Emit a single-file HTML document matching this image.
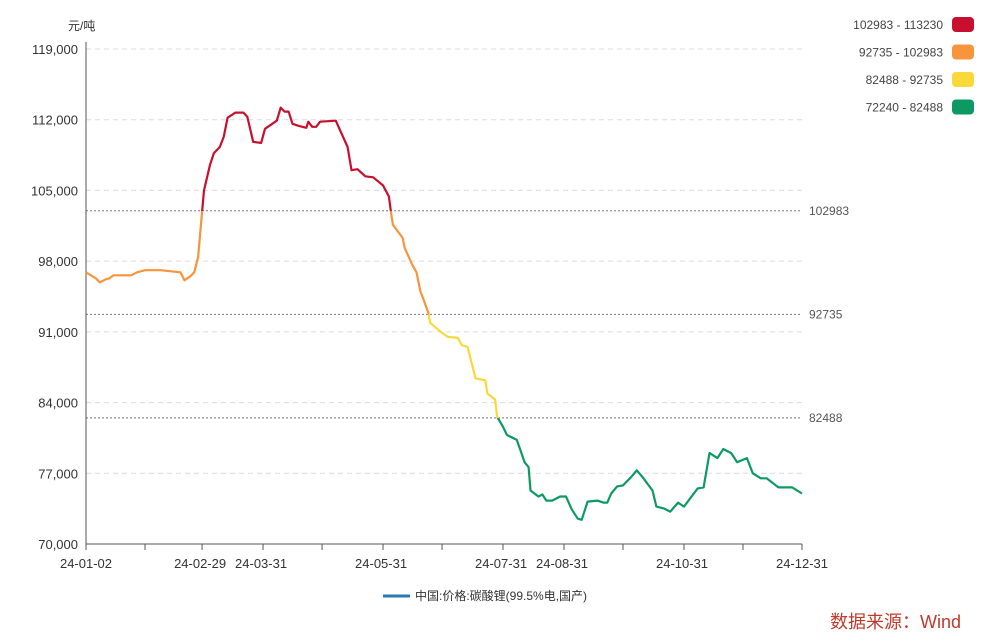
<!DOCTYPE html>
<html><head><meta charset="utf-8"><style>
html,body{margin:0;padding:0;background:#fff;}
body{width:991px;height:636px;overflow:hidden;font-family:"Liberation Sans","Noto Sans CJK SC",sans-serif;}
svg text{font-family:"Liberation Sans","Noto Sans CJK SC",sans-serif;}
</style></head><body>
<svg id="chart" width="991" height="636"></svg>
<script>
const days=[0,5,7,10,12,14,23,26,30,38,48,50,53,55,57,59,60,63,65,68,70,72,76,80,82,85,89,91,97,99,101,103,105,108,112,113,115,117,119,127,133,135,138,142,146,151,154,155,156,161,162,166,168,170,171,174,175,181,184,189,191,194,198,203,204,208,209,212,214,219,223,225,226,230,232,234,237,241,244,247,250,252,255,260,263,265,267,270,273,277,280,283,288,290,294,297,301,304,309,311,314,317,321,324,328,331,336,339,343,346,352,359,364];
const prices=[96900,96300,95900,96200,96300,96600,96600,96900,97100,97100,96900,96100,96500,96900,98400,102900,105000,107500,108700,109300,110300,112200,112700,112700,112300,109800,109700,111100,111900,113200,112800,112800,111600,111400,111200,111800,111300,111300,111800,111900,109300,107000,107100,106400,106300,105500,104400,102900,101600,100300,99300,97600,96900,95000,94500,92900,91900,90900,90500,90400,89700,89500,86400,86200,84900,84300,82600,81600,80800,80300,78100,77600,75300,74700,74900,74300,74300,74700,74700,73400,72500,72400,74200,74300,74100,74100,75000,75700,75800,76600,77300,76600,75300,73700,73500,73200,74100,73700,75000,75500,75600,79000,78500,79400,79000,78100,78500,77000,76500,76500,75600,75600,75000];
const yTicks=[70000,77000,84000,91000,98000,105000,112000,119000];
const xTickLabels=["24-01-02","24-02-29","24-03-31","24-05-31","24-07-31","24-08-31","24-10-31","24-12-31"];
const xTickDays=[0,58,89,150,211,242,303,364];
const monthTickDays=[0,30,59,90,120,151,181,212,243,273,304,334,364];
const thresholds=[102983,92735,82488];
const rangeLabels=["102983 - 113230","92735 - 102983","82488 - 92735","72240 - 82488"];
const rangeColors=["#c8102e","#f7943c","#f9d93a","#0d9a62"];

const NS="http://www.w3.org/2000/svg";
const svg=document.getElementById('chart');
const X0=86,X1=802,Y0=544,Y1=49;
const xs=d=>X0+(d-0)/(364-0)*(X1-X0);
const ys=v=>Y0-(v-70000)/(119000-70000)*(Y0-Y1);
function mk(tag,attrs,parent){const e=document.createElementNS(NS,tag);for(const k in attrs)e.setAttribute(k,attrs[k]);(parent||svg).appendChild(e);return e;}

const defs=mk('defs',{});
const grad=mk('linearGradient',{id:'lg',gradientUnits:'userSpaceOnUse',x1:0,y1:ys(113230),x2:0,y2:ys(72240)},defs);
const bounds=[113230,102983,92735,82488,72240];
const span=ys(72240)-ys(113230);
for(let i=0;i<4;i++){
  const a=(ys(bounds[i])-ys(113230))/span,b=(ys(bounds[i+1])-ys(113230))/span;
  mk('stop',{offset:a,'stop-color':rangeColors[i]},grad);
  mk('stop',{offset:b,'stop-color':rangeColors[i]},grad);
}

const unit=mk('text',{x:68,y:30,'font-size':12,fill:'#333'});unit.textContent='元/吨';



yTicks.forEach(v=>{
  if(v>70000){const g=mk('line',{x1:X0,x2:X1,y1:ys(v),y2:ys(v),stroke:'#dcdcdc','stroke-dasharray':'5,4'});
  
  }
  const t=mk('text',{x:78,y:ys(v)+5,'font-size':13,fill:'#333','text-anchor':'end'});
  t.textContent=v.toLocaleString('en-US');
  
  
});

thresholds.forEach(v=>{
  const l=mk('line',{x1:X0,x2:X1,y1:ys(v),y2:ys(v),stroke:'#777','stroke-dasharray':'2,2'});
  
  
  const t=mk('text',{x:809,y:ys(v)+4,'font-size':12,fill:'#555'});
  t.textContent=String(v);
  
  
});

const ya=mk('line',{x1:X0,x2:X0,y1:42,y2:Y0,stroke:'#555'});


const xa=mk('line',{x1:X0,x2:X1,y1:Y0,y2:Y0,stroke:'#555'});


monthTickDays.forEach(d=>{
  const t=mk('line',{x1:xs(d),x2:xs(d),y1:Y0,y2:Y0+6,stroke:'#555'});
  
  
});
xTickDays.forEach((d,i)=>{
  const t=mk('text',{x:xs(d),y:568,'font-size':13,fill:'#333','text-anchor':'middle'});
  t.textContent=xTickLabels[i];
  
  
});

const pts=days.map((d,i)=>xs(d).toFixed(1)+','+ys(prices[i]).toFixed(1)).join(' ');
const line=mk('polyline',{points:pts,fill:'none',stroke:'url(#lg)','stroke-width':2.2,'stroke-linejoin':'round'});



rangeLabels.forEach((lab,i)=>{
  const y=24+i*27.5;
  const t=mk('text',{x:943,y:y+5,'font-size':12,fill:'#444','text-anchor':'end'});
  t.textContent=lab;
  
  
  const r=mk('rect',{x:952,y:y-7,width:22,height:15,rx:4,fill:rangeColors[i]});
  
  
});

const bl=mk('line',{x1:383,x2:410,y1:596,y2:596,stroke:'#2a7ab0','stroke-width':3});


const bt=mk('text',{x:415,y:600,'font-size':12,fill:'#333'});
bt.textContent='中国:价格:碳酸锂(99.5%电,国产)';



const src=mk('text',{x:830,y:628,'font-size':18,fill:'#c0392b'});
src.textContent='数据来源：Wind';


</script>
</body></html>
